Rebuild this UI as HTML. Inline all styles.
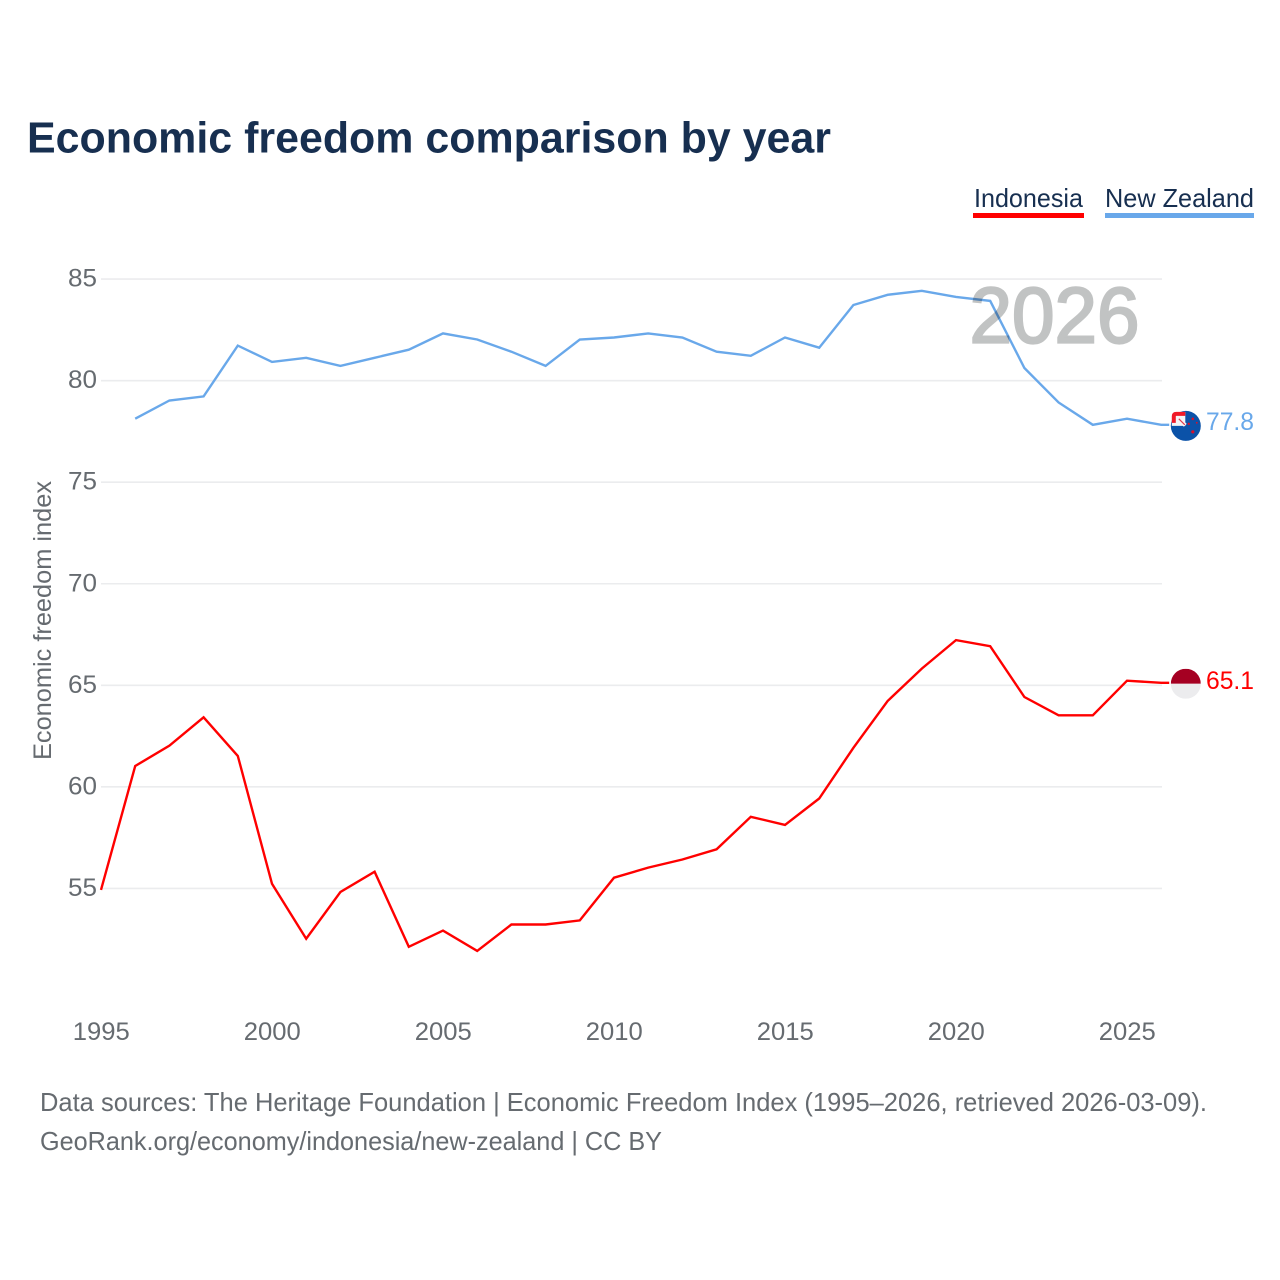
<!DOCTYPE html>
<html lang="en">
<head>
<meta charset="utf-8">
<title>Economic freedom comparison by year</title>
<style>
html,body{margin:0;padding:0;background:#fff;width:1280px;height:1280px;overflow:hidden}
svg{display:block;font-family:"Liberation Sans",sans-serif}
</style>
</head>
<body>
<svg id="chart" xmlns="http://www.w3.org/2000/svg" width="1280" height="1280" viewBox="0 0 1280 1280">
  <rect width="1280" height="1280" fill="#fff"/>
  <text x="27" y="152.5" font-size="44" font-weight="700" fill="#172f50" textLength="804" lengthAdjust="spacingAndGlyphs">Economic freedom comparison by year</text>

  <g>
    <g>
      <text x="974" y="207" font-size="26" fill="#172f50" textLength="109" lengthAdjust="spacingAndGlyphs">Indonesia</text>
      <rect x="973" y="213" width="111" height="5" fill="#ff0000"/>
    </g>
    <g>
      <text x="1105" y="207" font-size="26" fill="#172f50" textLength="149" lengthAdjust="spacingAndGlyphs">New Zealand</text>
      <rect x="1105" y="213" width="149" height="5" fill="#69a8ea"/>
    </g>
  </g>

  <g id="grid"></g>
  <g id="yticks"></g>
  <g id="xticks"></g>
  <text transform="translate(51,760) rotate(-90)" font-size="25" fill="#666b70" textLength="279" lengthAdjust="spacingAndGlyphs">Economic freedom index</text>

  <g id="series" transform="translate(-0.3,-0.5)"></g>
  <text x="969.5" y="342.5" font-size="79" font-weight="400" fill="#c1c3c3" stroke="#c1c3c3" stroke-width="2.2" textLength="170" lengthAdjust="spacingAndGlyphs" style="mix-blend-mode:multiply">2026</text>

  <defs>
    <clipPath id="flag-clip-id2"><circle r="15"/></clipPath>
  </defs>

  <g id="flag-nz">
    <circle r="15" fill="#0b52a8"/>
    <path d="M-14,0 V-10 Q-14,-14 -10,-14 H-0.5 V0Z" fill="#f4f4f6"/>
    <path d="M-12,-3 V-9.5 Q-12,-12 -9.5,-12 H-0.5" fill="none" stroke="#f01a28" stroke-width="4"/>
    <path d="M-8,-8 L-0.5,-0.5" stroke="#f4f4f6" stroke-width="4"/>
    <path d="M-7,-7 L-1,-1" stroke="#e23a4a" stroke-width="1.2"/>
    <circle cx="7" cy="-7" r="1.3" fill="#d8102a"/>
    <circle cx="3" cy="-2" r="1.2" fill="#d8102a"/>
    <circle cx="11" cy="-3" r="0.9" fill="#d8102a"/>
    <circle cx="7" cy="6" r="1.6" fill="#d8102a"/>
  </g>
  <g id="flag-id">
    <g clip-path="url(#flag-clip-id2)">
      <rect x="-15" y="-15" width="30" height="15" fill="#a50022"/>
      <rect x="-15" y="0" width="30" height="15" fill="#ececee"/>
    </g>
  </g>
  <g id="value-labels"></g>

  <text x="40" y="1111" font-size="26" fill="#666b70" textLength="1167" lengthAdjust="spacingAndGlyphs">Data sources: The Heritage Foundation | Economic Freedom Index (1995–2026, retrieved 2026-03-09).</text>
  <text x="40" y="1150" font-size="26" fill="#666b70" textLength="622" lengthAdjust="spacingAndGlyphs">GeoRank.org/economy/indonesia/new-zealand | CC BY</text>
</svg>
<script>
const years = [1995,1996,1997,1998,1999,2000,2001,2002,2003,2004,2005,2006,2007,2008,2009,2010,2011,2012,2013,2014,2015,2016,2017,2018,2019,2020,2021,2022,2023,2024,2025,2026];
const indonesia = [54.9,61.0,62.0,63.4,61.5,55.2,52.5,54.8,55.8,52.1,52.9,51.9,53.2,53.2,53.4,55.5,56.0,56.4,56.9,58.5,58.1,59.4,61.9,64.2,65.8,67.2,66.9,64.4,63.5,63.5,65.2,65.1];
const newZealand = [null,78.1,79.0,79.2,81.7,80.9,81.1,80.7,81.1,81.5,82.3,82.0,81.4,80.7,82.0,82.1,82.3,82.1,81.4,81.2,82.1,81.6,83.7,84.2,84.4,84.1,83.9,80.6,78.9,77.8,78.1,77.8];
const yTicks = [55,60,65,70,75,80,85];
const xTicks = [1995,2000,2005,2010,2015,2020,2025];

const NS = 'http://www.w3.org/2000/svg';
function xScale(year){ return 101.3 + (year - 1995) * 34.2; }
function yScale(v){ return 888.4 - (v - 55) * 20.31; }
function make(tag, attrs, parent, text){
  const el = document.createElementNS(NS, tag);
  for (const k in attrs) el.setAttribute(k, attrs[k]);
  if (text !== undefined) el.textContent = text;
  parent.appendChild(el);
  return el;
}

const grid = document.getElementById('grid');
const yG = document.getElementById('yticks');
yTicks.forEach(function(t){
  const line = make('line', {x1:101, x2:1162, y1:yScale(t), y2:yScale(t), stroke:'#ebecee', 'stroke-width':1.6}, grid);
  
  
  const lab = make('text', {x:97, y:yScale(t)+7.5, 'font-size':25, fill:'#666b70', 'text-anchor':'end', textLength:29, lengthAdjust:'spacingAndGlyphs'}, yG, String(t));
  
  
});

const xG = document.getElementById('xticks');
xTicks.forEach(function(t){
  const lab = make('text', {x:xScale(t), y:1040, 'font-size':25, fill:'#666b70', 'text-anchor':'middle', textLength:57, lengthAdjust:'spacingAndGlyphs'}, xG, String(t));
  
  
});

function pathFor(values){
  let d = '';
  let lastX = 0, lastY = 0;
  values.forEach(function(v, i){
    if (v === null) return;
    lastX = xScale(years[i]);
    lastY = yScale(v);
    d += (d ? 'L' : 'M') + lastX.toFixed(1) + ',' + lastY.toFixed(1);
  });
  d += 'L' + (lastX + 8).toFixed(1) + ',' + lastY.toFixed(1);
  return d;
}

const seriesG = document.getElementById('series');
const idLine = make('path', {d:pathFor(indonesia), fill:'none', stroke:'#ff0000', 'stroke-width':2.4, 'stroke-linejoin':'miter'}, seriesG);


const nzLine = make('path', {d:pathFor(newZealand), fill:'none', stroke:'#69a8ea', 'stroke-width':2.4, 'stroke-linejoin':'miter'}, seriesG);



const lastId = indonesia[indonesia.length - 1];
const lastNz = newZealand[newZealand.length - 1];
const flagX = xScale(years[years.length - 1]) + 24.3;
document.getElementById('flag-nz').setAttribute('transform', 'translate(' + flagX + ',' + (yScale(lastNz) + 0.5) + ')');
document.getElementById('flag-id').setAttribute('transform', 'translate(' + flagX + ',' + (yScale(lastId) + 0.5) + ')');

const valG = document.getElementById('value-labels');
const idVal = make('text', {x:1206, y:yScale(lastId)+5.5, 'font-size':25, fill:'#ff0000', textLength:48, lengthAdjust:'spacingAndGlyphs'}, valG, lastId.toFixed(1));


const nzVal = make('text', {x:1206, y:yScale(lastNz)+4.5, 'font-size':25, fill:'#69a8ea', textLength:48, lengthAdjust:'spacingAndGlyphs'}, valG, lastNz.toFixed(1));


</script>
</body>
</html>
